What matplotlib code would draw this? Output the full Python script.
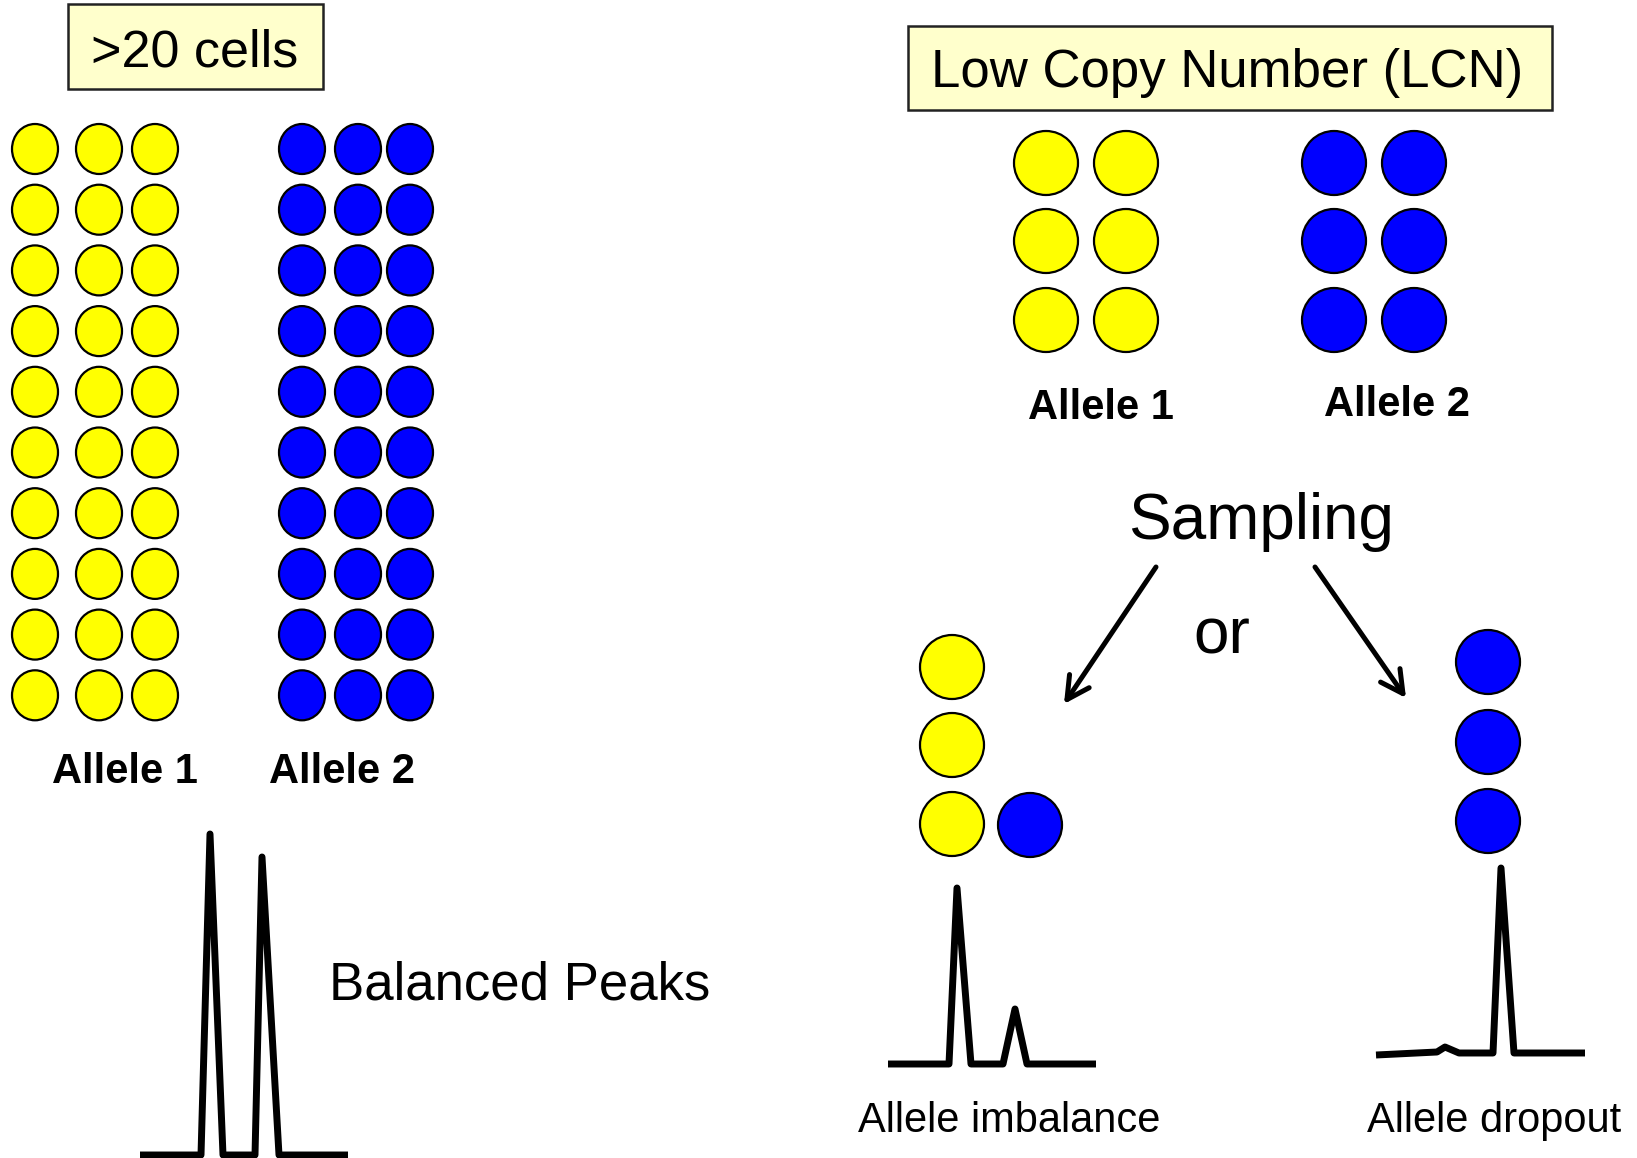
import numpy as np
import matplotlib
matplotlib.use("Agg")
import matplotlib.pyplot as plt
from matplotlib.patches import Ellipse, Rectangle, FancyArrowPatch

plt.rcParams['font.family'] = ['Liberation Sans', 'DejaVu Sans']

YELLOW = '#FFFF00'
BLUE = '#0000FF'
BOX_FILL = '#FFFFCC'

# ---- left panel: >20 cells, 10 rows x 3 cells per allele
n_rows_many = 10
allele1_many_x = [35, 99, 155]
allele2_many_x = [302, 358, 410]
many_top, many_step = 149, 60.7

# ---- right panel: LCN, 3 rows x 2 cells per allele
lcn_allele1_x = [1046, 1126]
lcn_allele2_x = [1334, 1414]
lcn_rows_y = [163, 241, 320]

# sampled outcomes
imbalance_yellow = [(952, 667), (952, 745), (952, 824)]
imbalance_blue = [(1030, 825)]
dropout_blue = [(1488, 662), (1488, 742), (1488, 821)]

# ---- electropherogram traces (x positions, signal level)
balanced_x = [140, 201, 210, 223, 255, 262, 279, 348]
balanced_y = [1155, 1155, 834, 1155, 1155, 857, 1155, 1155]
imbalance_x = [888, 949, 957, 971, 1003, 1015, 1027, 1096]
imbalance_y = [1064, 1064, 888, 1064, 1064, 1009, 1064, 1064]
dropout_x = [1376, 1437, 1445, 1459, 1493, 1501, 1514, 1585]
dropout_y = [1055, 1052, 1047, 1053, 1053, 868, 1053, 1053]

fig = plt.figure(figsize=(16.37, 11.58), dpi=100)
ax = fig.add_axes([0, 0, 1, 1])
ax.set_xlim(0, 1637)
ax.set_ylim(1158, 0)
ax.axis('off')


def cell(x, y, color, w=64, h=64):
    ax.add_patch(Ellipse((x, y), w, h, facecolor=color, edgecolor='black', lw=1.6, zorder=3))


def label_box(x0, y0, x1, y1, text, tx, ty, size):
    ax.add_patch(Rectangle((x0, y0), x1 - x0, y1 - y0, facecolor=BOX_FILL,
                           edgecolor='#222222', lw=1.8, zorder=2))
    ax.text(tx, ty, text, fontsize=size, ha='center', va='center', zorder=4)


def trace(xs, ys):
    ax.plot(xs, ys, color='black', lw=5, solid_joinstyle='round', solid_capstyle='butt')


# left panel
label_box(68, 4, 323, 89, '>20 cells', 195, 53, 37.5)
for i in range(n_rows_many):
    y = many_top + i * many_step
    for x in allele1_many_x:
        cell(x, y, YELLOW, 46, 50)
    for x in allele2_many_x:
        cell(x, y, BLUE, 46, 50)
ax.text(125, 772, 'Allele 1', fontsize=30, fontweight='bold', ha='center', va='center')
ax.text(342, 772, 'Allele 2', fontsize=30, fontweight='bold', ha='center', va='center')

trace(balanced_x, balanced_y)
ax.text(329, 985, 'Balanced Peaks', fontsize=38, ha='left', va='center')

# right panel
label_box(908, 26, 1552, 110, 'Low Copy Number (LCN)', 1227, 73, 38)
for y in lcn_rows_y:
    for x in lcn_allele1_x:
        cell(x, y, YELLOW)
    for x in lcn_allele2_x:
        cell(x, y, BLUE)
ax.text(1101, 408, 'Allele 1', fontsize=30, fontweight='bold', ha='center', va='center')
ax.text(1397, 405, 'Allele 2', fontsize=30, fontweight='bold', ha='center', va='center')

ax.text(1261, 522, 'Sampling', fontsize=46, ha='center', va='center')
ax.text(1222, 637, 'or', fontsize=46, ha='center', va='center')

for start, end in [((1156, 567), (1064, 704)), ((1315, 567), (1406, 698))]:
    ax.add_patch(FancyArrowPatch(start, end, arrowstyle='->,head_length=1.6,head_width=0.85',
                                 mutation_scale=10, lw=3.6, color='black',
                                 shrinkA=0, shrinkB=0, zorder=3))

for x, y in imbalance_yellow:
    cell(x, y, YELLOW)
for x, y in imbalance_blue + dropout_blue:
    cell(x, y, BLUE)

trace(imbalance_x, imbalance_y)
trace(dropout_x, dropout_y)
ax.text(1009, 1121, 'Allele imbalance', fontsize=30, ha='center', va='center')
ax.text(1494, 1121, 'Allele dropout', fontsize=30, ha='center', va='center')

fig.savefig('out.png', dpi=100, facecolor='white')
